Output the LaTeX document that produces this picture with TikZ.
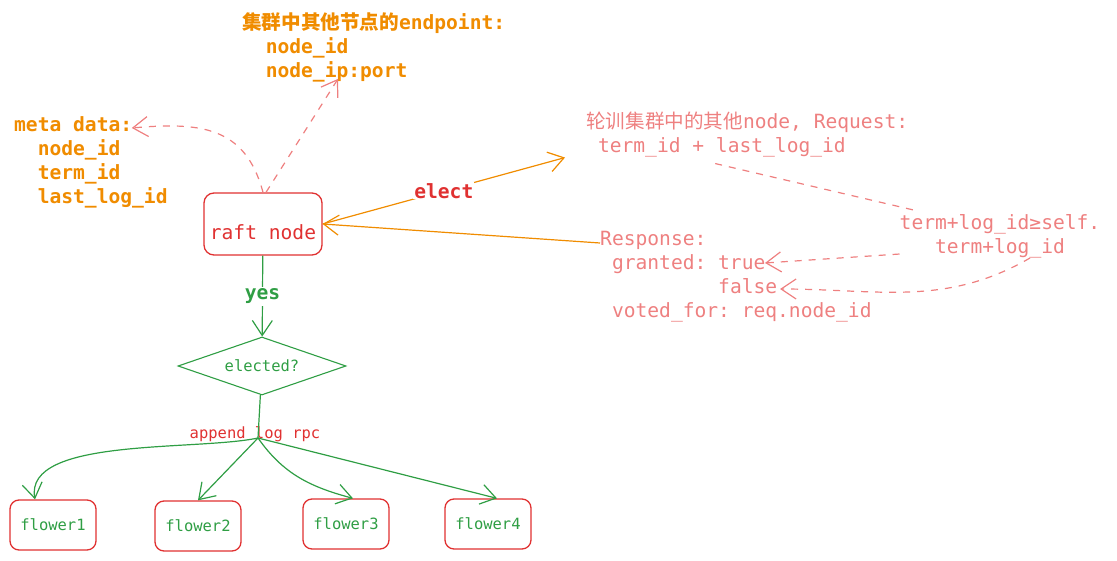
\documentclass[tikz,border=0pt]{standalone}
\usepackage{fontspec}
\setmainfont{DejaVu Sans Mono}
\newfontfamily\cjk{Noto Sans CJK SC}
\usetikzlibrary{positioning,arrows.meta,shapes.geometric}
\frenchspacing

\definecolor{raftorange}{HTML}{F08C00}
\definecolor{raftred}{HTML}{E03131}
\definecolor{raftgreen}{HTML}{2F9E44}
\definecolor{raftpink}{HTML}{EE8080}

\begin{document}
\begin{tikzpicture}[
  x=1pt, y=-1pt,
  note/.style={align=left, inner sep=0pt, anchor=north west, font=\fontsize{19.6}{24}\selectfont},
  boldnote/.style={note, text=raftorange, font=\fontsize{19.6}{24}\selectfont\bfseries},
  pinknote/.style={note, text=raftpink},
  box/.style={draw=raftred, line width=1.3pt, rounded corners=10pt, minimum width=118pt, minimum height=62pt, text height=32pt, text depth=0pt, font=\fontsize{19.6}{24}\selectfont, text=raftred},
  flowerbox/.style={draw=raftred, line width=1.3pt, rounded corners=9pt, minimum width=86pt, minimum height=50pt, font=\fontsize{15.5}{19}\selectfont, text=raftgreen},
  arrow/.style={-{Straight Barb[length=15pt,width=20pt]}, line width=1.2pt},
  dashline/.style={raftpink, line width=1.2pt, dash pattern=on 7pt off 7pt},
  dasharrow/.style={dashline, -{Straight Barb[length=15pt,width=20pt]}}
]
\useasboundingbox (0,0) rectangle (1117,561);

% texts
\node[boldnote] (endpoint) at (242,12) {{\cjk 集群中其他节点的}endpoint:\\\hphantom{xx}node\_id\\\hphantom{xx}node\_ip:port};
\node[boldnote] (meta) at (14,116) {meta data:\\\hphantom{xx}node\_id\\\hphantom{xx}term\_id\\\hphantom{xx}last\_log\_id};
\node[pinknote] (request) at (586,112) {{\cjk 轮训集群中的其他}node, Request:\\\hphantom{x}term\_id + last\_log\_id};
\node[pinknote, align=center, anchor=north] (cond) at (1000,214) {term+log\_id≥self.\\term+log\_id};
\node[pinknote] (response) at (600,231) {Response:\\\hphantom{x}granted: true\\\hphantom{xgranted: }false\\\hphantom{x}voted\_for: req.node\_id};

% nodes
\node[box] (raft) at (263,224) {raft node};
\node[diamond, draw=raftgreen, line width=1.1pt, aspect=2.9, minimum width=168pt, minimum height=58pt, inner sep=0pt, text=raftgreen, font=\fontsize{15.5}{19}\selectfont] (elected) at (262,366) {elected?};
\node[text=raftred, font=\fontsize{15.5}{19}\selectfont, inner sep=0pt] (rpc) at (255,434) {append log rpc};
\coordinate (fork) at (258,438);
\node[flowerbox] (flower1) at (53,525) {flower1};
\node[flowerbox] (flower2) at (198,526) {flower2};
\node[flowerbox] (flower3) at (346,524) {flower3};
\node[flowerbox] (flower4) at (488,524) {flower4};

% election
\draw[arrow, raftorange] (raft.east) -- node[fill=white, inner sep=1pt, text=raftred, font=\fontsize{19.6}{24}\selectfont\bfseries] (electlabel) {elect} ([xshift=-21pt]request.south west);
\draw[arrow, raftorange] ([yshift=-12pt]response.north west) -- (raft.east);
\draw[dashline] ([xshift=-32pt, yshift=-6pt]request.south) -- ([xshift=14pt, yshift=4pt]cond.north west);
\draw[dasharrow] ([yshift=4pt]cond.south west) -- ([xshift=165pt, yshift=-32pt]response.north west);
\draw[dasharrow] ([xshift=30pt]cond.south) to[out=210, in=0] ([xshift=180pt, yshift=-58pt]response.north west);

% node data
\draw[dasharrow] (raft.north) to[out=105, in=5, looseness=1.2] ([xshift=-36pt, yshift=-12pt]meta.north east);
\draw[dasharrow] ([xshift=3pt]raft.north) -- ([xshift=96pt, yshift=3pt]endpoint.south west);

% replication
\draw[arrow, raftgreen] (raft) -- node[fill=white, inner sep=2pt, font=\fontsize{19.6}{24}\selectfont\bfseries] (yes) {yes} (elected);
\draw[raftgreen, line width=1.2pt] (elected) -- (fork);
\draw[arrow, raftgreen] (fork) to[out=192, in=100, looseness=0.7] ([xshift=-18pt]flower1.north);
\draw[arrow, raftgreen] (fork) -- (flower2.north);
\draw[arrow, raftgreen] (fork) to[out=-55, in=165] ([xshift=7pt]flower3.north);
\draw[arrow, raftgreen] (fork) -- ([xshift=9pt]flower4.north);

\end{tikzpicture}
\end{document}
